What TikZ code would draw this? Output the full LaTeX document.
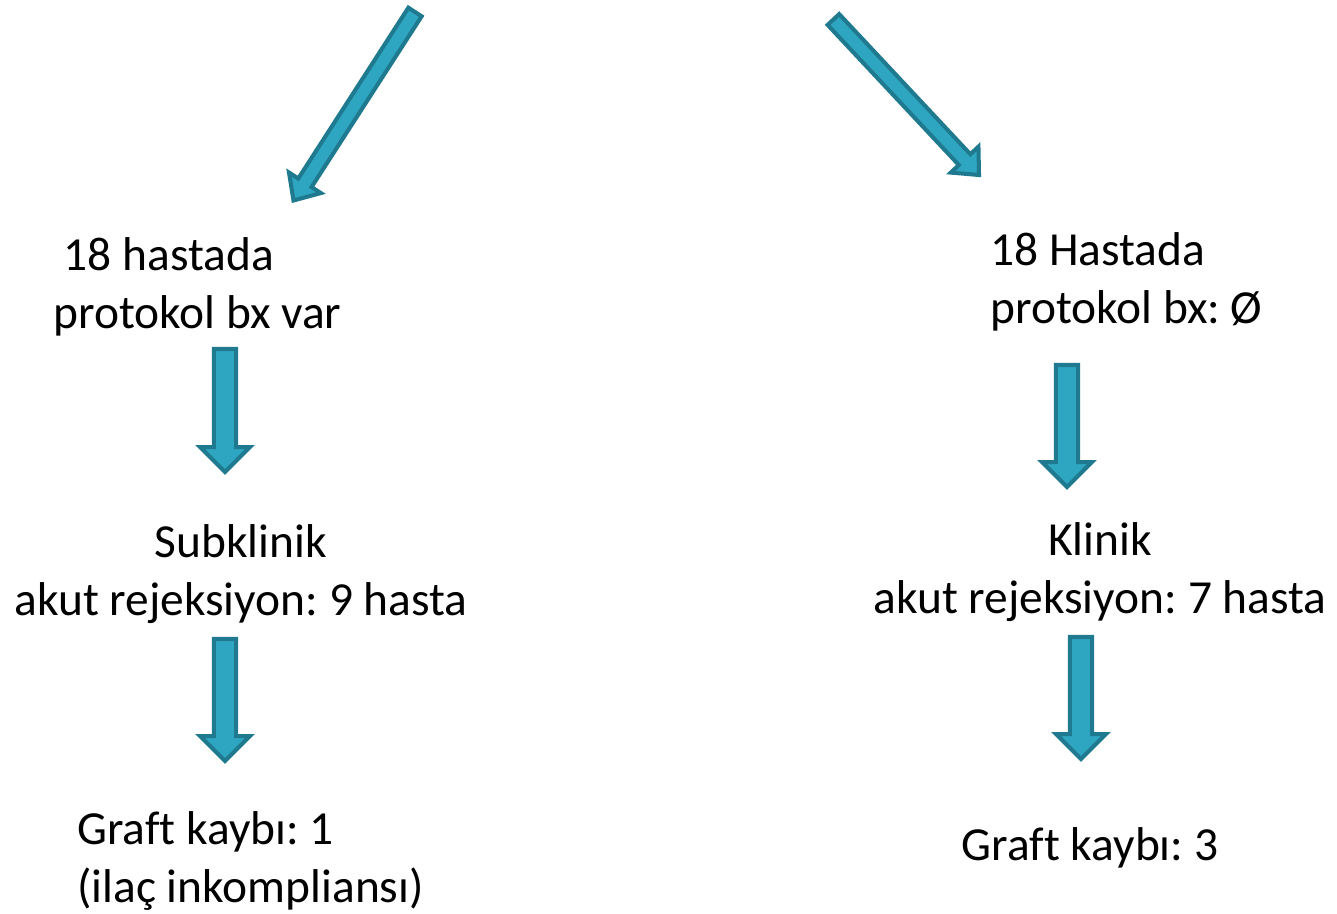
\documentclass[tikz,border=0pt]{standalone}
\usepackage{fontspec}
\setmainfont[Ligatures=NoCommon]{Carlito}
\usetikzlibrary{calc}
\frenchspacing
\definecolor{arrowfill}{HTML}{2EA5C1}
\definecolor{arrowline}{HTML}{1F7A8F}
\tikzset{
  blk/.style={fill=arrowfill,draw=arrowline,line width=2.3pt,line join=miter},
  txt/.style={font=\fontsize{27}{33}\selectfont,inner sep=0pt}
}
% block arrow: from, to, shaft half width, head half width, head length
\newcommand{\blockarrow}[5]{%
  \coordinate (h) at ($(#2)!#5!(#1)$);
  \draw[blk] ($(#1)!#3!90:(#2)$) -- ($(h)!#3!-90:(#1)$) -- ($(h)!#4!-90:(#1)$) -- (#2)
    -- ($(h)!#4!90:(#1)$) -- ($(h)!#3!90:(#1)$) -- ($(#1)!#3!-90:(#2)$) -- cycle;}
\begin{document}
\begin{tikzpicture}[x=0.02cm,y=-0.02cm]
\useasboundingbox (0,0) rectangle (1337,913);
% left branch
\node[txt,anchor=west,align=left] (bxvar) at (53,287) {\hspace{0.22em}18 hastada\\protokol bx var};
\node[txt,align=center] (subkl) at (241,574) {Subklinik\\akut rejeksiyon: 9 hasta};
\node[txt,anchor=west,align=left] (kayip1) at (77,861) {Graft kaybı: 1\\(ilaç inkompliansı)};
% right branch
\node[txt,anchor=west,align=left] (bxyok) at (990,282) {18 Hastada\\protokol bx: Ø};
\node[txt,align=center] (klin) at (1100,572) {Klinik\\akut rejeksiyon: 7 hasta};
\node[txt] (kayip3) at (1090,848) {Graft kaybı: 3};
% arrows
\coordinate (d1a) at (415,12);   \coordinate (d1b) at (293.5,200.5);
\coordinate (d2a) at (833.4,19.5); \coordinate (d2b) at (979,175);
\coordinate (v1a) at (225,349);  \coordinate (v1b) at (225,472);
\coordinate (v2a) at (225,639);  \coordinate (v2b) at (225,761);
\coordinate (v3a) at (1067,365); \coordinate (v3b) at (1067,487);
\coordinate (v4a) at (1081,637); \coordinate (v4b) at (1081,759);
\blockarrow{d1a}{d1b}{4.5pt}{10.8pt}{12pt}
\blockarrow{d2a}{d2b}{4.5pt}{10.8pt}{12pt}
\foreach \a in {v1,v2,v3,v4}{
  \blockarrow{\a a}{\a b}{6.3pt}{14.2pt}{14.2pt}}
\end{tikzpicture}
\end{document}
